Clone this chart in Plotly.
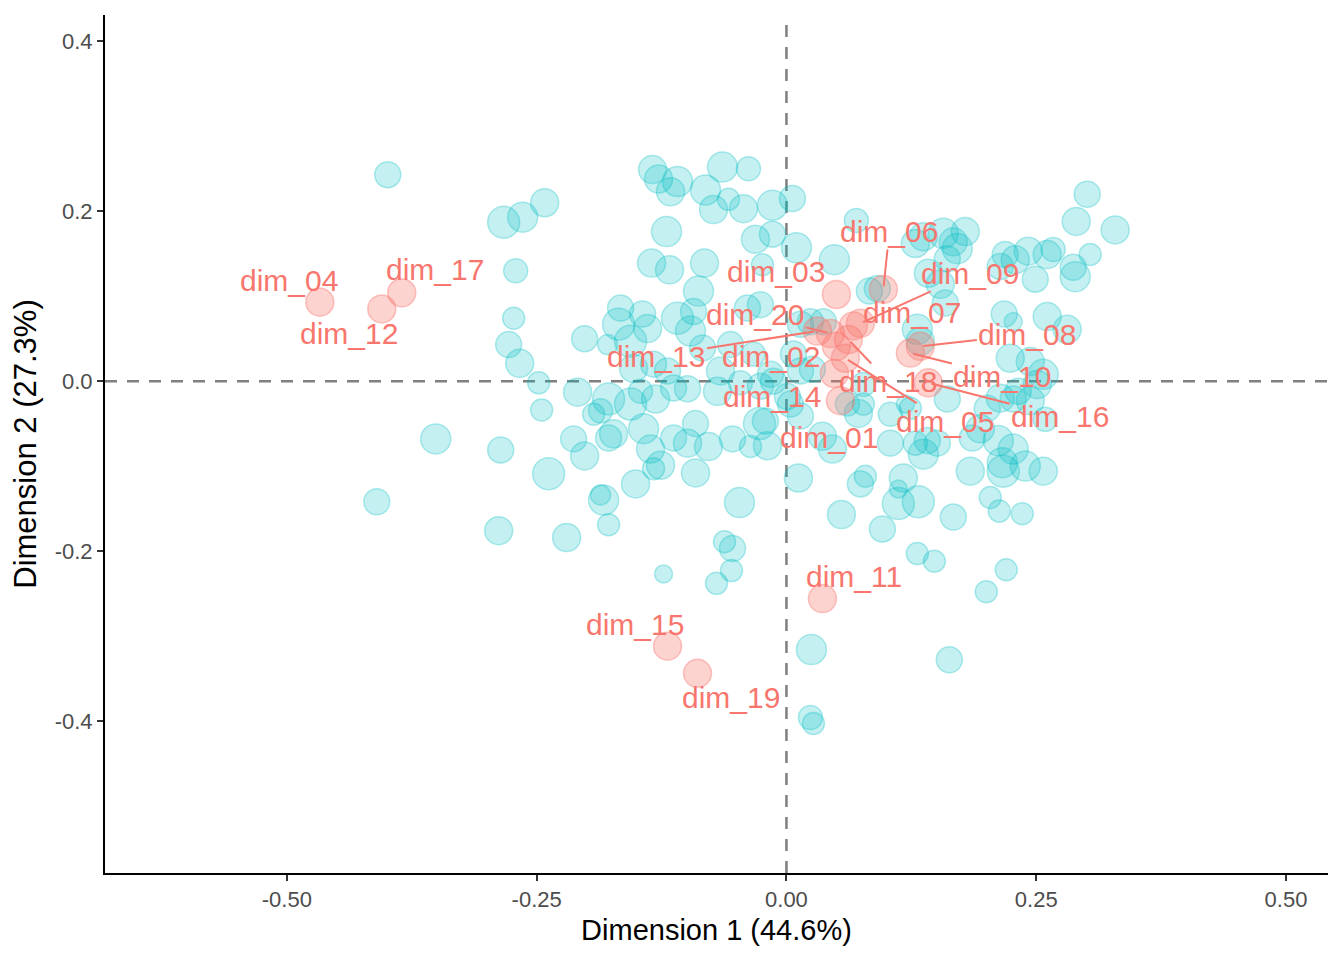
import plotly.graph_objects as go

# row points (cyan): coordinates on dimensions 1 and 2, plus a mass value for size
row_x = [
    -0.399, -0.283, -0.264, -0.242, -0.271, -0.273, -0.278, -0.267, -0.248, -0.245,
    -0.351, -0.286, -0.238, -0.410, -0.288, -0.220, -0.178, -0.183, -0.186, -0.213,
    -0.202, -0.178, -0.173, -0.143, -0.136, -0.126, -0.133, -0.151, -0.113, -0.099,
    -0.091, -0.078, -0.091, -0.054, -0.036, -0.027, -0.019, 0.012, -0.047, -0.062,
    -0.054, -0.055, -0.070, -0.123, 0.025, 0.024, 0.027, 0.163, 0.055, -0.209,
    -0.178, -0.193, -0.186, -0.156, -0.146, -0.131, -0.113, -0.099, 0.004, -0.013,
    -0.134, -0.128, -0.109, -0.116, -0.064, -0.038, -0.081, -0.073, -0.058, -0.043,
    -0.014, 0.006, -0.120, -0.031, -0.014, 0.010, -0.135, -0.117, -0.082, -0.024,
    -0.088, -0.026, -0.039, -0.202, -0.179, -0.166, -0.144, -0.168, -0.156, -0.139,
    -0.109, -0.093, -0.096, -0.084, -0.153, -0.133, -0.119, -0.066, -0.056, -0.033,
    -0.016, 0.070, 0.048, 0.024, 0.037, 0.014, 0.083, 0.091, 0.131, 0.134,
    0.159, 0.154, 0.142, 0.129, 0.137, 0.157, 0.167, 0.179, 0.171, 0.161,
    0.301, 0.290, 0.329, 0.304, 0.287, 0.289, 0.249, 0.261, 0.242, 0.229,
    0.214, 0.218, 0.227, 0.261, 0.281, 0.224, 0.244, 0.257, 0.251, 0.214,
    0.227, 0.244, 0.259, 0.194, 0.186, 0.212, 0.227, 0.184, 0.216, 0.217,
    0.239, 0.257, 0.204, 0.213, 0.236, 0.167, 0.132, 0.112, 0.117, 0.112,
    0.079, 0.074, 0.096, 0.131, 0.148, 0.220, 0.200, 0.161, 0.119, 0.104,
    0.077, 0.072, 0.104, 0.137, 0.141, 0.151, 0.129, 0.201, 0.124, 0.046,
    0.036, 0.014, 0.232, 0.219, 0.267, 0.014, 0.007, 0.026, 0.077, 0.061,
    0.001, -0.021, -0.026, -0.046, -0.069,
]
row_y = [
    0.243, 0.187, 0.193, 0.210, 0.130, 0.074, 0.043, 0.021, -0.002, -0.034,
    -0.068, -0.081, -0.109, -0.142, -0.176, -0.184, -0.169, -0.140, -0.134, -0.068,
    -0.088, -0.067, -0.062, -0.056, -0.080, -0.099, -0.103, -0.121, -0.067, -0.073,
    -0.050, -0.077, -0.108, -0.068, -0.077, -0.050, -0.076, -0.114, -0.143, -0.189,
    -0.197, -0.223, -0.238, -0.227, -0.316, -0.396, -0.403, -0.328, -0.157, -0.013,
    -0.021, -0.039, -0.035, -0.027, -0.012, -0.021, -0.008, -0.009, -0.027, 0.000,
    0.249, 0.238, 0.235, 0.223, 0.252, 0.250, 0.225, 0.202, 0.214, 0.203,
    0.207, 0.215, 0.176, 0.167, 0.173, 0.157, 0.139, 0.131, 0.139, 0.137,
    0.106, 0.090, 0.086, 0.050, 0.043, 0.086, 0.079, 0.067, 0.047, 0.062,
    0.074, 0.082, 0.059, 0.039, 0.015, 0.020, 0.012, 0.012, 0.043, 0.032,
    0.008, 0.189, 0.143, 0.070, 0.070, 0.012, 0.106, 0.109, 0.061, 0.047,
    0.092, 0.114, 0.127, 0.162, 0.170, 0.174, 0.164, 0.176, 0.156, 0.144,
    0.220, 0.188, 0.178, 0.149, 0.134, 0.123, 0.120, 0.149, 0.153, 0.143,
    0.135, 0.079, 0.070, 0.076, 0.061, 0.027, 0.023, 0.008, -0.004, -0.020,
    -0.021, -0.023, -0.045, -0.056, -0.067, -0.070, -0.080, -0.106, -0.096, -0.106,
    -0.100, -0.106, -0.137, -0.153, -0.156, -0.160, -0.142, -0.144, -0.114, -0.127,
    -0.112, -0.121, -0.174, -0.203, -0.212, -0.222, -0.248, -0.021, -0.027, -0.039,
    -0.027, -0.038, -0.073, -0.086, -0.070, -0.073, -0.073, -0.032, -0.032, -0.080,
    -0.065, -0.041, -0.012, 0.149, 0.155, 0.067, 0.032, 0.014, -0.004, -0.027,
    -0.018, -0.047, -0.006, -0.002, -0.012,
]
row_mass = [
    13, 16, 15, 14, 12, 11, 13, 14, 11, 11,
    15, 13, 16, 13, 14, 14, 11, 15, 10, 13,
    14, 13, 14, 15, 14, 14, 11, 14, 13, 14,
    13, 14, 14, 13, 11, 16, 14, 14, 15, 11,
    13, 11, 11, 9, 15, 12, 11, 13, 14, 14,
    16, 11, 12, 16, 12, 14, 13, 13, 13, 13,
    14, 14, 15, 14, 15, 12, 15, 14, 11, 14,
    15, 13, 15, 14, 13, 15, 14, 14, 14, 11,
    15, 13, 13, 13, 10, 13, 13, 16, 16, 14,
    16, 13, 15, 13, 14, 13, 13, 14, 13, 12,
    13, 12, 15, 13, 13, 13, 13, 13, 15, 14,
    13, 14, 14, 14, 14, 15, 14, 14, 15, 13,
    13, 14, 14, 11, 13, 15, 13, 14, 14, 14,
    13, 13, 9, 14, 14, 14, 14, 15, 14, 14,
    13, 14, 12, 14, 13, 15, 15, 14, 15, 16,
    15, 14, 11, 11, 11, 13, 16, 16, 14, 9,
    11, 13, 13, 11, 11, 11, 11, 13, 9, 12,
    11, 14, 13, 15, 13, 13, 12, 13, 11, 14,
    14, 13, 13, 13, 12, 13, 13, 13, 12, 12,
    13, 13, 13, 12, 14,
]

# column points (red): dim_01 .. dim_20
col_names = [f"dim_{i:02d}" for i in range(1, 21)]
col_x = [
    0.054, 0.050, 0.050, -0.467, 0.059, 0.097, 0.067, 0.134, 0.074, 0.124,
    0.036, -0.405, 0.031, 0.048, -0.119, 0.142, -0.385, 0.062, -0.089, 0.044,
]
col_y = [
    -0.023, 0.041, 0.102, 0.093, 0.027, 0.108, 0.065, 0.041, 0.068, 0.033,
    -0.256, 0.085, 0.059, 0.009, -0.312, -0.002, 0.104, 0.049, -0.344, 0.056,
]

# label placement (pixel offset of label from its point, leader line or not)
label_pos = {
    "dim_01": (-11, 37, False), "dim_02": (-65, 10, False), "dim_03": (-60, -23, False),
    "dim_04": (-31, -22, False), "dim_05": (100, 63, True), "dim_06": (6, -58, True),
    "dim_07": (59, -13, False), "dim_08": (107, -12, True), "dim_09": (110, -50, True),
    "dim_10": (92, 23, True), "dim_11": (32, -22, False), "dim_12": (-33, 25, False),
    "dim_13": (-161, 25, True), "dim_14": (-62, 23, False), "dim_15": (-33, -22, False),
    "dim_16": (132, 34, True), "dim_17": (33, -23, False), "dim_18": (40, 42, True),
    "dim_19": (33, 24, False), "dim_20": (-75, -19, True),
}

CYAN = "0,191,196"
RED = "248,118,109"
FONT = "Liberation Sans, Arial, sans-serif"

fig = go.Figure()

fig.add_hline(y=0, line=dict(color="#7F7F7F", width=2.5, dash="12px,10px"), layer="below")
fig.add_vline(x=0, line=dict(color="#7F7F7F", width=2.5, dash="12px,10px"), layer="below")

fig.add_trace(go.Scatter(
    x=row_x, y=row_y, mode="markers",
    marker=dict(size=[2 * m for m in row_mass], color=f"rgba({CYAN},0.32)",
                line=dict(color=f"rgba({CYAN},0.45)", width=1.5)),
    hoverinfo="skip", showlegend=False,
))
fig.add_trace(go.Scatter(
    x=col_x, y=col_y, mode="markers", text=col_names,
    marker=dict(size=28, color=f"rgba({RED},0.32)",
                line=dict(color=f"rgba({RED},0.4)", width=1.5)),
    showlegend=False,
))

for name, x, y in zip(col_names, col_x, col_y):
    dx, dy, line = label_pos[name]
    common = dict(x=x, y=y, text=name, font=dict(family=FONT, size=30, color=f"rgb({RED})"))
    if line:
        fig.add_annotation(**common, showarrow=True, ax=dx, ay=dy, arrowhead=0,
                           arrowwidth=2, arrowcolor=f"rgb({RED})", standoff=3)
    else:
        fig.add_annotation(**common, showarrow=False, xshift=dx, yshift=-dy)

axis_common = dict(
    showgrid=False, zeroline=False, showline=True, linecolor="black", linewidth=2,
    ticks="outside", ticklen=6, tickwidth=2, tickcolor="#333333",
    tickfont=dict(family=FONT, size=22, color="#4D4D4D"),
)
fig.update_xaxes(
    **axis_common, range=[-0.682, 0.542],
    tickvals=[-0.5, -0.25, 0, 0.25, 0.5], ticktext=["-0.50", "-0.25", "0.00", "0.25", "0.50"],
    title=dict(text="Dimension 1 (44.6%)", font=dict(family=FONT, size=29, color="black"), standoff=8),
)
fig.update_yaxes(
    **axis_common, range=[-0.579, 0.431],
    tickvals=[-0.4, -0.2, 0, 0.2, 0.4], ticktext=["-0.4", "-0.2", "0.0", "0.2", "0.4"],
    title=dict(text="Dimension 2 (27.3%)", font=dict(family=FONT, size=31, color="black"), standoff=10),
)
# the page body adds an 8px offset, so the figure is sized to fit the window
fig.update_layout(
    width=1336, height=952, plot_bgcolor="white", paper_bgcolor="white",
    margin=dict(l=97, r=16, t=7, b=87),
)

fig.write_html("out.html")
